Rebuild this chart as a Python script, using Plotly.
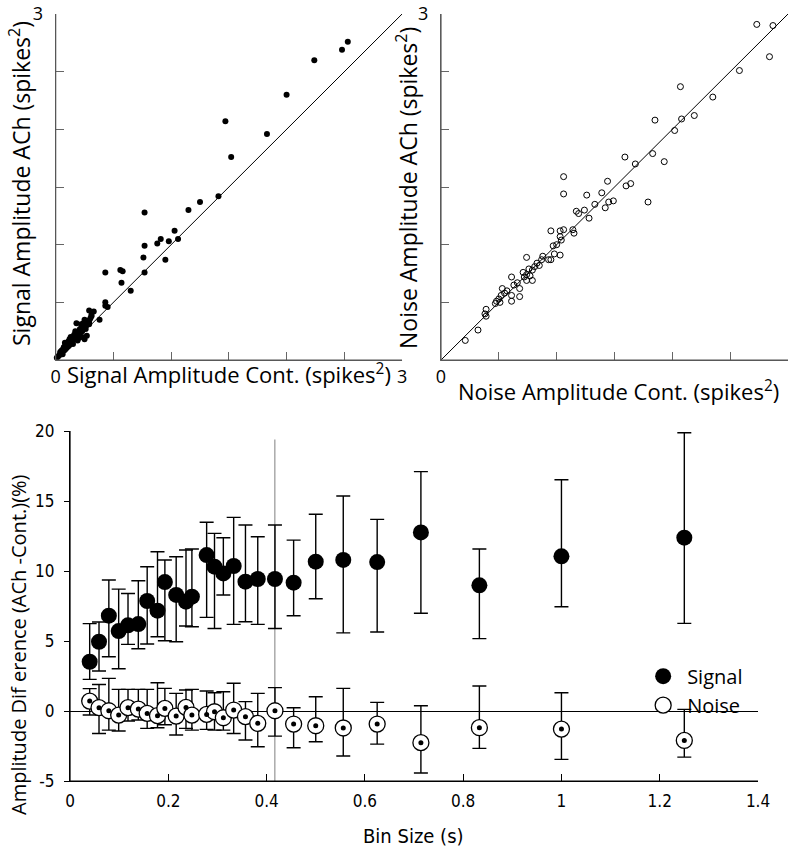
import plotly.graph_objects as go

# ---------------- data: top-left (signal amplitude) ----------------
sig_cont = [2.53, 2.48, 2.24, 2.00, 1.47, 1.83, 1.52, 1.41, 1.25, 1.15, 0.77, 1.03, 1.06,
            0.98, 0.91, 0.88, 0.77, 0.76, 0.95, 0.77, 0.43, 0.56, 0.58, 0.57, 0.65, 0.43,
            0.43, 0.45, 0.38, 0.33, 0.29, 0.31, 0.18,
            0.02, 0.03, 0.04, 0.05, 0.05, 0.06, 0.07, 0.07, 0.08, 0.09, 0.09, 0.10, 0.11,
            0.11, 0.12, 0.12, 0.13, 0.14, 0.14, 0.15, 0.16, 0.16, 0.17, 0.18, 0.18, 0.19,
            0.20, 0.21, 0.21, 0.22, 0.23, 0.24, 0.24, 0.25, 0.26, 0.27, 0.28, 0.29, 0.30,
            0.22, 0.17, 0.13, 0.08, 0.25, 0.31, 0.25, 0.23, 0.27, 0.20, 0.19, 0.01, 0.04,
            0.06, 0.10, 0.15, 0.19, 0.23, 0.12, 0.08, 0.14, 0.26, 0.29]
sig_ach = [2.76, 2.69, 2.60, 2.30, 2.07, 1.96, 1.76, 1.42, 1.37, 1.30, 1.28, 1.12, 1.05,
           1.03, 1.05, 1.01, 0.99, 0.89, 0.87, 0.76, 0.76, 0.78, 0.77, 0.67, 0.60, 0.50,
           0.47, 0.46, 0.35, 0.42, 0.43, 0.39, 0.32,
           0.03, 0.04, 0.06, 0.06, 0.08, 0.09, 0.08, 0.11, 0.12, 0.10, 0.13, 0.14, 0.12,
           0.16, 0.15, 0.18, 0.17, 0.16, 0.19, 0.20, 0.18, 0.22, 0.21, 0.20, 0.24, 0.23,
           0.25, 0.24, 0.27, 0.26, 0.30, 0.28, 0.32, 0.30, 0.33, 0.31, 0.34, 0.33, 0.36,
           0.31, 0.25, 0.20, 0.15, 0.35, 0.38, 0.18, 0.20, 0.21, 0.19, 0.17, 0.02, 0.07,
           0.05, 0.11, 0.14, 0.22, 0.25, 0.13, 0.09, 0.18, 0.27, 0.31]

# ---------------- data: top-right (noise amplitude) ----------------
noise_cont = [2.73, 2.87, 2.84, 2.58, 2.07, 2.35, 2.08, 2.19, 1.85, 2.02, 1.59, 1.68, 1.83,
              1.93, 1.06, 1.44, 1.06, 1.26, 1.39, 1.60, 1.64, 1.79, 1.49, 1.45, 1.42, 1.33,
              1.28, 1.17, 1.19, 1.24, 1.14, 1.15, 1.06, 1.03, 0.95, 1.03, 1.04, 1.00, 0.97,
              0.98, 1.03, 0.95, 0.93, 0.88, 0.87, 0.83, 0.85, 0.81, 0.79, 0.74, 0.76, 0.71,
              0.74, 0.77, 0.79, 0.74, 0.72, 0.61, 0.66, 0.63, 0.68, 0.68, 0.61, 0.61, 0.57,
              0.53, 0.55, 0.52, 0.50, 0.48, 0.51, 0.47, 0.39, 0.38, 0.39, 0.32, 0.21]
noise_ach = [2.91, 2.90, 2.63, 2.51, 2.37, 2.28, 2.09, 2.12, 2.08, 1.99, 1.76, 1.70, 1.79,
             1.72, 1.59, 1.55, 1.44, 1.43, 1.45, 1.51, 1.53, 1.37, 1.38, 1.37, 1.32, 1.35,
             1.23, 1.29, 1.27, 1.30, 1.13, 1.10, 1.13, 1.12, 1.12, 1.07, 1.04, 1.00, 0.99,
             0.92, 0.91, 0.87, 0.87, 0.90, 0.87, 0.84, 0.82, 0.81, 0.78, 0.89, 0.79, 0.76,
             0.74, 0.73, 0.69, 0.69, 0.72, 0.72, 0.67, 0.65, 0.62, 0.55, 0.51, 0.56, 0.60,
             0.62, 0.58, 0.56, 0.53, 0.51, 0.50, 0.49, 0.44, 0.40, 0.38, 0.26, 0.17]

diag = [0, 3]
scatter_range = [0, 3]
scatter_labeled_ticks = [0, 3]

# ---------------- data: bottom (amplitude difference vs bin size) ----------------
bin_size = [0.040, 0.059, 0.079, 0.099, 0.118, 0.139, 0.157, 0.178, 0.193, 0.216, 0.236,
            0.248, 0.278, 0.294, 0.312, 0.333, 0.357, 0.382, 0.417, 0.455, 0.500, 0.556,
            0.625, 0.714, 0.833, 1.000, 1.250]
signal_diff = [3.52, 4.95, 6.81, 5.71, 6.12, 6.21, 7.86, 7.17, 9.21, 8.29, 7.81, 8.17, 11.14,
               10.31, 9.83, 10.36, 9.24, 9.43, 9.43, 9.17, 10.67, 10.79, 10.64, 12.76, 8.98,
               11.05, 12.38]
signal_hi = [6.24, 6.36, 9.36, 8.71, 8.40, 9.31, 10.31, 11.38, 10.79, 11.02, 11.50, 11.57,
             13.48, 12.69, 12.38, 13.83, 13.29, 12.45, 13.29, 12.21, 14.05, 15.36, 13.69,
             17.10, 11.57, 16.52, 19.88]
signal_lo = [2.26, 2.86, 3.88, 3.02, 4.76, 4.45, 4.79, 5.31, 5.02, 4.95, 6.07, 6.02, 6.69,
             5.90, 8.29, 6.19, 6.38, 6.19, 5.90, 6.81, 8.02, 5.58, 5.64, 6.98, 5.17, 7.45, 6.26]
noise_diff = [0.71, 0.24, 0.02, -0.29, 0.24, 0.14, -0.17, -0.33, 0.19, -0.36, 0.26, -0.29,
              -0.24, -0.05, -0.48, 0.07, -0.40, -0.88, 0.02, -0.93, -1.05, -1.21, -0.93,
              -2.26, -1.19, -1.29, -2.10]
noise_hi = [1.60, 1.90, 2.33, 1.55, 1.55, 1.55, 1.55, 2.02, 1.62, 1.26, 1.50, 1.55, 1.43,
            1.31, 1.38, 1.98, 0.67, 1.26, 1.67, 0.24, 1.02, 1.62, 0.62, 0.38, 1.79, 1.31, 0.12]
noise_lo = [-0.28, -1.60, -1.36, -1.43, -0.71, -0.64, -1.24, -1.19, -0.98, -1.71, -1.24,
            -1.36, -1.31, -1.36, -1.36, -1.60, -2.07, -2.55, -1.79, -2.62, -2.19, -3.21,
            -2.36, -4.43, -2.67, -3.45, -3.29]
marker_bin = 0.4167
bin_range = [0, 1.4]
diff_range = [-5, 20]
diff_ticks = [-5, 0, 5, 10, 15, 20]
diff_ticktext = ["-5", "0", "5", "10", "15", "20"]

FONT = "Open Sans, Noto Sans, sans-serif"
NARROW = "Liberation Sans Narrow, DejaVu Sans Condensed, Open Sans, sans-serif"

# subplot domains (paper fractions)
TL_X, TR_X, TOP_Y = [0.0702, 0.507], [0.5561, 0.9937], [0.5789, 0.9836]
BOT_X, BOT_Y = [0.0883, 0.9559], [0.0865, 0.4959]

fig = go.Figure()

# top-left
fig.add_trace(go.Scatter(x=diag, y=diag, mode="lines", line=dict(color="black", width=1),
                         xaxis="x", yaxis="y", showlegend=False, hoverinfo="skip"))
fig.add_trace(go.Scatter(x=sig_cont, y=sig_ach, mode="markers",
                         marker=dict(color="black", size=6, line=dict(width=0)),
                         xaxis="x", yaxis="y", showlegend=False, cliponaxis=False))
# top-right
fig.add_trace(go.Scatter(x=diag, y=diag, mode="lines", line=dict(color="black", width=1),
                         xaxis="x2", yaxis="y2", showlegend=False, hoverinfo="skip"))
fig.add_trace(go.Scatter(x=noise_cont, y=noise_ach, mode="markers",
                         marker=dict(color="rgba(0,0,0,0)", size=6, line=dict(color="black", width=1)),
                         xaxis="x2", yaxis="y2", showlegend=False, cliponaxis=False))

# bottom
fig.add_trace(go.Scatter(
    x=bin_size, y=signal_diff, mode="markers", name="Signal",
    marker=dict(color="black", size=16, line=dict(width=0)),
    error_y=dict(type="data", symmetric=False,
                 array=[h - v for h, v in zip(signal_hi, signal_diff)],
                 arrayminus=[v - l for v, l in zip(signal_diff, signal_lo)],
                 color="black", thickness=1.4, width=7),
    xaxis="x3", yaxis="y3", cliponaxis=False))
fig.add_trace(go.Scatter(
    x=bin_size, y=noise_diff, mode="markers", name="Noise",
    marker=dict(color="white", size=16, line=dict(color="black", width=1.3)),
    error_y=dict(type="data", symmetric=False,
                 array=[h - v for h, v in zip(noise_hi, noise_diff)],
                 arrayminus=[v - l for v, l in zip(noise_diff, noise_lo)],
                 color="black", thickness=1.4, width=7),
    xaxis="x3", yaxis="y3", cliponaxis=False))
fig.add_trace(go.Scatter(
    x=bin_size, y=noise_diff, mode="markers", showlegend=False,
    marker=dict(color="black", size=5, line=dict(width=0)),
    xaxis="x3", yaxis="y3", cliponaxis=False))

fig.add_shape(type="line", xref="x3", yref="y3", x0=marker_bin, x1=marker_bin, y0=-5, y1=19.4,
              line=dict(color="#aaaaaa", width=1.5), layer="below")

# axis frame lines (paper coordinates along the subplot domains)
for dx, dy, col in [(TL_X, TOP_Y, "#555555"), (TR_X, TOP_Y, "#555555"), (BOT_X, BOT_Y, "black")]:
    fig.add_shape(type="line", xref="paper", yref="paper", x0=dx[0], x1=dx[0], y0=dy[0], y1=dy[1],
                  line=dict(color=col, width=1.2), layer="above")
    fig.add_shape(type="line", xref="paper", yref="paper", x0=dx[0], x1=dx[1], y0=dy[0], y1=dy[0],
                  line=dict(color=col, width=1.2), layer="above")

sc_common = dict(range=scatter_range, tickvals=scatter_labeled_ticks, ticktext=["0", "3"],
                 ticks="inside", ticklen=8, tickcolor="#666",
                 minor=dict(dtick=0.5, tick0=0, ticks="inside", ticklen=8, tickcolor="#666"),
                 showline=True, linecolor="#666", linewidth=1.2,
                 showgrid=False, zeroline=False,
                 tickfont=dict(family=FONT, size=18, color="black"))
sc_y = dict(sc_common, tickvals=[3], ticktext=["3"], ticklabelstandoff=8)

fig.update_layout(
    width=793, height=855, margin=dict(l=0, r=0, t=0, b=0, autoexpand=False),
    paper_bgcolor="white", plot_bgcolor="white",
    font=dict(family=FONT, color="black"),
    xaxis=dict(domain=TL_X, anchor="y", **sc_common),
    yaxis=dict(domain=TOP_Y, anchor="x", **sc_y),
    xaxis2=dict(domain=TR_X, anchor="y2", **sc_common),
    yaxis2=dict(domain=TOP_Y, anchor="x2", **sc_y),
    xaxis3=dict(domain=BOT_X, anchor="y3", range=bin_range, dtick=0.2, tick0=0,
                ticks="inside", ticklen=7, tickcolor="black", showline=True, linecolor="black",
                linewidth=1.2, showgrid=False, zeroline=False, ticklabelstandoff=4,
                tickfont=dict(family=NARROW, size=17, color="black")),
    yaxis3=dict(domain=BOT_Y, anchor="x3", range=diff_range,
                tickvals=diff_ticks, ticktext=diff_ticktext, ticklabelstandoff=6,
                ticks="outside", ticklen=5, tickcolor="black", showline=True, linecolor="black",
                linewidth=1.2, showgrid=False, zeroline=True, zerolinecolor="black",
                zerolinewidth=1.2, tickfont=dict(family=NARROW, size=17, color="black")),
    legend=dict(x=0.806, y=0.232, xanchor="left", yanchor="top", bgcolor="rgba(0,0,0,0)",
                itemwidth=38, font=dict(family=FONT, size=20, color="black"), tracegroupgap=2),
    annotations=[
        dict(text="Signal Amplitude ACh (spikes<sup>2</sup>)", x=20 / 793, y=1 - 184 / 855,
             xref="paper", yref="paper", textangle=-90, showarrow=False,
             xanchor="center", yanchor="middle", font=dict(family=FONT, size=23)),
        dict(text="Signal Amplitude Cont. (spikes<sup>2</sup>)", x=229 / 793, y=1 - 374 / 855,
             xref="paper", yref="paper", showarrow=False,
             xanchor="center", yanchor="middle", font=dict(family=FONT, size=22)),
        dict(text="Noise Amplitude ACh (spikes<sup>2</sup>)", x=407 / 793, y=1 - 188 / 855,
             xref="paper", yref="paper", textangle=-90, showarrow=False,
             xanchor="center", yanchor="middle", font=dict(family=FONT, size=23)),
        dict(text="Noise Amplitude Cont. (spikes<sup>2</sup>)", x=618 / 793, y=1 - 390 / 855,
             xref="paper", yref="paper", showarrow=False,
             xanchor="center", yanchor="middle", font=dict(family=FONT, size=22)),
        dict(text="Amplitude Dif erence (ACh -Cont.)(%)", x=18 / 793, y=1 - 645 / 855,
             xref="paper", yref="paper", textangle=-90, showarrow=False,
             xanchor="center", yanchor="middle", font=dict(family=FONT, size=20)),
        dict(text="Bin Size (s)", x=414 / 793, y=1 - 836 / 855,
             xref="paper", yref="paper", showarrow=False,
             xanchor="center", yanchor="middle", font=dict(family=NARROW, size=20)),
    ],
)

fig.write_html("out.html", config={"displayModeBar": False},
               post_script="document.body.style.margin='0';")
